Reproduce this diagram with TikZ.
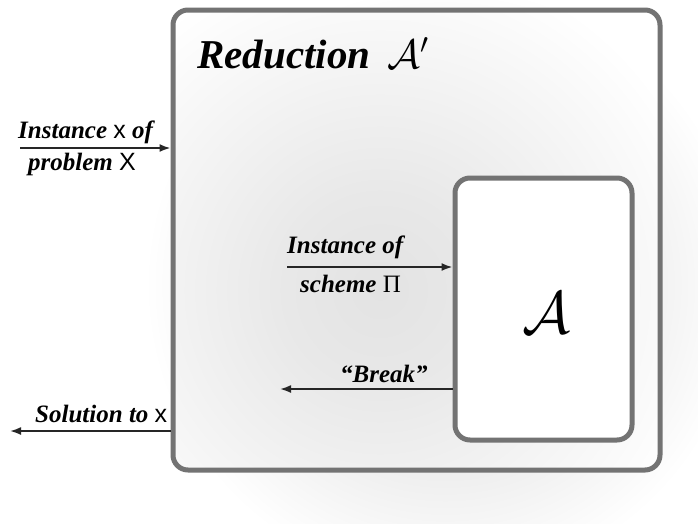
\RequirePackage{fix-cm}
\documentclass[tikz,border=0pt]{standalone}
\usepackage{fontspec}
\setmainfont{Liberation Serif}
\newfontfamily\sansx{Liberation Sans}
\usetikzlibrary{arrows.meta,calc}
\pgfdeclareradialshading{inglow}{\pgfpoint{0bp}{0bp}}{color(0bp)=(black!11); color(7bp)=(black!9); color(25bp)=(white); color(50bp)=(white)}
\pgfdeclareradialshading{outglow}{\pgfpoint{0bp}{0bp}}{color(0bp)=(black!12); color(15bp)=(black!7); color(25bp)=(white); color(50bp)=(white)}
\tikzset{
  boxstyle/.style={draw=black!55, line width=5pt, rounded corners=15pt, inner sep=0pt},
  lbl/.style={anchor=base west, inner sep=0pt, font=\fontsize{25}{28}\selectfont\bfseries\itshape},
  arr/.style={draw=black!85, line width=1.8pt, -{Latex[length=11pt,width=8pt]}},
}
\begin{document}
\begin{tikzpicture}[x=1pt,y=-1pt]
\useasboundingbox (0,0) rectangle (698,523);
\fill[white] (0,0) rectangle (698,523);
% outer glow
\begin{scope}
  \clip (0,0) rectangle (698,523);
  \shade[shading=outglow] (445,285) circle (300);
\end{scope}
% interior shading
\begin{scope}
  \clip[rounded corners=15pt] (173,10) rectangle (660,470);
  \fill[white] (173,10) rectangle (660,470);
  \shade[shading=inglow] (380,290) circle (340);
\end{scope}
\node[boxstyle, minimum width=487pt, minimum height=460pt] (outer) at (416.5,240) {};
\node[boxstyle, fill=white, minimum width=177pt, minimum height=262pt] (inner) at (543.5,309) {};
\node[anchor=base west, inner sep=0pt, font=\fontsize{41}{45}\selectfont\bfseries\itshape] (title) at (197,68) {Reduction \,$\mathcal{A}'$};
\node[inner sep=0pt] (alg) at (546,313) {\fontsize{60}{66}\selectfont$\mathcal{A}$};
% input instance
\node[lbl] (l1) at (18,138) {Instance {\sansx\mdseries\upshape x} of};
\node[lbl] (l2) at (28,170) {problem {\sansx\mdseries\upshape X}};
\coordinate (in1) at (20,148);
\draw[arr] (in1) -- (in1 -| outer.west);
% instance of scheme
\node[lbl] (l3) at (287,253) {Instance of};
\node[lbl] (l4) at (300,292) {scheme {\mdseries\upshape Π}};
\coordinate (in2) at (287,267);
\draw[arr] (in2) -- (in2 -| inner.west);
% break
\node[lbl] (l5) at (340,382) {“Break”};
\coordinate (brk) at (280,389);
\draw[arr] (brk -| inner.west) -- (brk);
% solution
\node[lbl] (l6) at (35,422) {Solution to {\sansx\mdseries\upshape x}};
\coordinate (sol) at (10,431);
\draw[arr] (sol -| outer.west) -- (sol);
\end{tikzpicture}
\end{document}
